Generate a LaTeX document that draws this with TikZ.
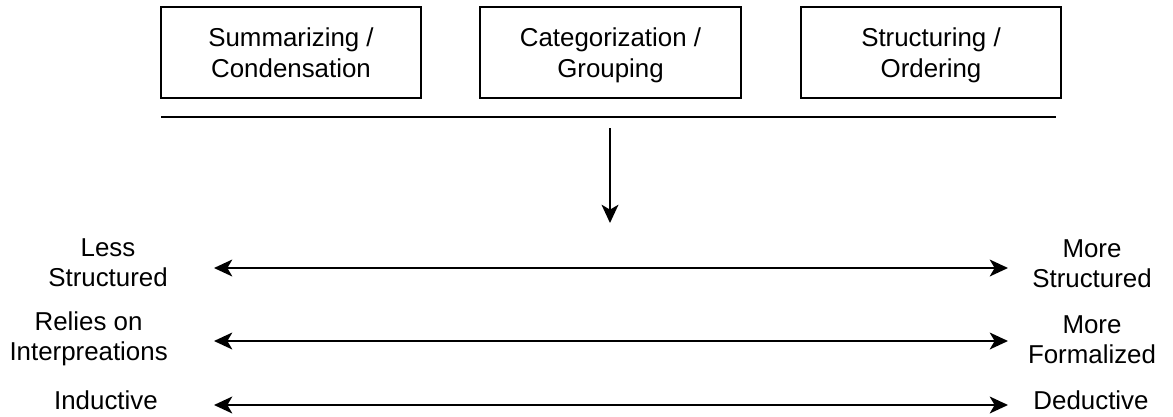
\documentclass[tikz,border=0pt]{standalone}
\usepackage{fontspec}
\setmainfont{Liberation Sans}
\usetikzlibrary{arrows.meta,positioning}

\begin{document}
\begin{tikzpicture}[x=0.025cm, y=-0.025cm,
    font=\fontsize{18.4}{21.6}\selectfont,
    stepbox/.style={draw, line width=1.4pt, minimum width=6.5cm, minimum height=2.275cm, align=center, text depth=0pt},
    leftlbl/.style={anchor=east, align=center, inner sep=0pt},
    rightlbl/.style={align=center, inner sep=0pt},
    arr/.style={line width=1.4pt, -{Stealth[length=13pt, width=12pt, inset=3.5pt]}},
    dblarr/.style={line width=1.4pt, {Stealth[length=13pt, width=12pt, inset=3.5pt]}-{Stealth[length=13pt, width=12pt, inset=3.5pt]}}]
  \useasboundingbox (0,0) rectangle (1173,416);
  % three boxes on top
  \node[stepbox] (summ) at (291,52.5) {Summarizing /\\Condensation};
  \node[stepbox] (cat) at (610.5,52.5) {Categorization /\\Grouping};
  \node[stepbox] (struct) at (931,52.5) {Structuring /\\Ordering};
  % bar below the boxes and the arrow down
  \coordinate (barl) at (161,117);
  \coordinate (barr) at (1056,117);
  \draw[line width=1.4pt] (barl) -- (barr);
  \coordinate (downs) at (610,128);
  \coordinate (downe) at (610,223);
  \draw[arr] (downs) -- (downe);
  % scales
  \node[leftlbl] (less) at (168,263) {Less\\Structured};
  \node[rightlbl] (more) at (1092,264) {More\\Structured};
  \node[leftlbl] (relies) at (168,339) {Relies on\\Interpreations};
  \node[rightlbl] (formal) at (1092,340) {More\\Formalized};
  \node[leftlbl] (induct) at (158,400) {Inductive};
  \node[rightlbl] (deduct) at (1091,400) {Deductive};
  \coordinate (s1l) at (214,268);
  \coordinate (s1r) at (1008,268);
  \coordinate (s2l) at (214,341);
  \coordinate (s2r) at (1008,341);
  \coordinate (s3l) at (214,405);
  \coordinate (s3r) at (1008,405);
  \draw[dblarr] (s1l) -- (s1r);
  \draw[dblarr] (s2l) -- (s2r);
  \draw[dblarr] (s3l) -- (s3r);
\end{tikzpicture}
\end{document}
